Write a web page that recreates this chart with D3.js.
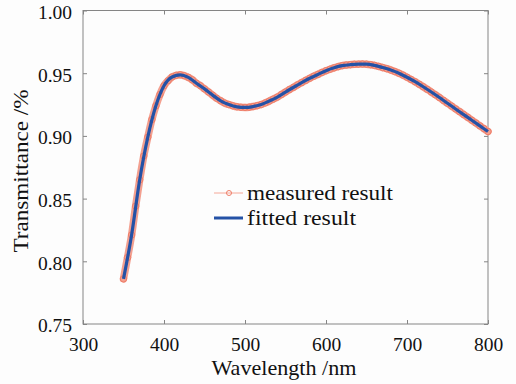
<!DOCTYPE html>
<html>
<head>
<meta charset="utf-8">
<script src="https://cdn.jsdelivr.net/npm/d3@7"></script>
<style>
  html, body { margin: 0; padding: 0; background: #fdfdfd; }
  svg { display: block; }
</style>
</head>
<body>
<svg id="chart"></svg>
<script>
// measured transmittance, every 5 nm
const measuredWl = d3.range(350, 801, 5);
const measuredT = [
  0.786, 0.803, 0.821, 0.844, 0.865, 0.884, 0.899, 0.913, 0.924, 0.933,
  0.940, 0.944, 0.947, 0.9483, 0.9487, 0.948, 0.9467, 0.9447, 0.942, 0.940,
  0.9375, 0.935, 0.9325, 0.930, 0.928, 0.9262, 0.925, 0.924, 0.9232, 0.9228,
  0.9227, 0.9229, 0.9234, 0.9241, 0.925, 0.9263, 0.9278, 0.9294, 0.931, 0.933,
  0.935, 0.937, 0.9388, 0.9407, 0.9425, 0.9443, 0.946, 0.9476, 0.949, 0.9506,
  0.952, 0.9532, 0.9543, 0.9552, 0.956, 0.9565, 0.9568, 0.9571, 0.9572, 0.9573,
  0.9572, 0.9568, 0.9562, 0.9554, 0.9545, 0.9536, 0.9525, 0.9513, 0.950, 0.9485,
  0.9468, 0.945, 0.9432, 0.9412, 0.9392, 0.9371, 0.935, 0.9328, 0.9306, 0.9283,
  0.926, 0.9238, 0.9215, 0.9193, 0.917, 0.9148, 0.9125, 0.9103, 0.908, 0.9058,
  0.9035
];
// fitted curve, every 10 nm
const fittedWl = d3.range(350, 801, 10);
const fittedT = [
  0.786, 0.821, 0.865, 0.899, 0.924, 0.940, 0.947, 0.9487, 0.9467, 0.942,
  0.9375, 0.9325, 0.928, 0.925, 0.9232, 0.9227, 0.9234, 0.925, 0.9278, 0.931,
  0.935, 0.9388, 0.9425, 0.946, 0.949, 0.952, 0.9543, 0.956, 0.9568, 0.9572,
  0.9572, 0.9562, 0.9545, 0.9525, 0.950, 0.9468, 0.9432, 0.9392, 0.935, 0.9306,
  0.926, 0.9215, 0.917, 0.9125, 0.908, 0.9035
];
const xTicks = [300, 400, 500, 600, 700, 800];
const yTicks = [0.75, 0.80, 0.85, 0.90, 0.95, 1.00];
const seriesNames = ["measured result", "fitted result"];

const FONT = "'Liberation Serif', 'Times New Roman', serif";

const width = 516, height = 384;
const margin = { top: 10.5, right: 28, bottom: 60, left: 83 };
const iw = width - margin.left - margin.right;
const ih = height - margin.top - margin.bottom;

const svg = d3.select("#chart").attr("width", width).attr("height", height);
const g = svg.append("g").attr("transform", `translate(${margin.left},${margin.top})`);

const x = d3.scaleLinear().domain([300, 800]).range([0, iw]);
const y = d3.scaleLinear().domain([0.75, 1.0]).range([ih, 0]);

const axisColor = "#858585";

// box (top and right with inward ticks)
g.append("rect").attr("width", iw).attr("height", ih)
  .attr("fill", "#fdfdfd").attr("stroke", axisColor).attr("stroke-width", 1);

function styleAxis(sel, showText) {
  sel.attr("font-family", null).attr("font-size", null);
  sel.select(".domain").remove();
  sel.selectAll(".tick line").attr("stroke", axisColor);
  if (!showText) sel.selectAll(".tick text").remove();
  else sel.selectAll(".tick text")
    .style("font-family", FONT).style("font-size", "19.5px").attr("fill", "#111");
}

const xAxis = g.append("g").attr("transform", `translate(0,${ih})`)
  .call(d3.axisBottom(x).tickValues(xTicks).tickFormat(d3.format("d"))
    .tickSizeInner(-4).tickSizeOuter(0).tickPadding(13));
styleAxis(xAxis, true);

g.append("g").call(d3.axisTop(x).tickValues(xTicks).tickSizeInner(-4).tickSizeOuter(0))
  .call(s => styleAxis(s, false));

const yAxis = g.append("g")
  .call(d3.axisLeft(y).tickValues(yTicks).tickFormat(d3.format(".2f"))
    .tickSizeInner(-4).tickSizeOuter(0).tickPadding(11));
styleAxis(yAxis, true);
yAxis.selectAll(".tick text").attr("dy", "0.4em");

g.append("g").attr("transform", `translate(${iw},0)`)
  .call(d3.axisRight(y).tickValues(yTicks).tickSizeInner(-4).tickSizeOuter(0))
  .call(s => styleAxis(s, false));

const measColor = "#ef7d68";
const haloColor = "#f3a090";
const fitColor = "#2452a6";

const measured = measuredWl.map((w, i) => ({ w, t: measuredT[i] }));
const fitted = fittedWl.map((w, i) => ({ w, t: fittedT[i] }));

const line = d3.line().x(d => x(d.w)).y(d => y(d.t)).curve(d3.curveMonotoneX);

// dense markers of the measured curve merge into a band
g.append("path").datum(measured)
  .attr("fill", "none").attr("stroke", haloColor).attr("stroke-width", 7.5)
  .attr("stroke-linejoin", "round").attr("stroke-linecap", "round")
  .attr("d", line);

g.selectAll(".meas").data(measured).enter().append("circle")
  .attr("class", "meas")
  .attr("cx", d => x(d.w)).attr("cy", d => y(d.t)).attr("r", 3.2)
  .attr("fill", "none").attr("stroke", measColor).attr("stroke-width", 1);

g.append("path").datum(fitted)
  .attr("fill", "none").attr("stroke", fitColor).attr("stroke-width", 3.2)
  .attr("stroke-linejoin", "round")
  .attr("d", line);

// legend
const leg = svg.append("g").attr("transform", "translate(214,0)");
leg.append("line").attr("x1", 0).attr("x2", 29).attr("y1", 193).attr("y2", 193)
  .attr("stroke", "#f5a898").attr("stroke-width", 1);
leg.append("circle").attr("cx", 15).attr("cy", 193).attr("r", 2.5)
  .attr("fill", "none").attr("stroke", measColor).attr("stroke-width", 1);
leg.append("line").attr("x1", 0).attr("x2", 29).attr("y1", 218).attr("y2", 218)
  .attr("stroke", fitColor).attr("stroke-width", 3);

function label(sel, size, len) {
  return sel.style("font-family", FONT).style("font-size", size + "px").attr("fill", "#111")
    .attr("textLength", len).attr("lengthAdjust", "spacingAndGlyphs");
}
label(leg.append("text").attr("x", 33).attr("y", 200), 21, 146).text(seriesNames[0]);
label(leg.append("text").attr("x", 33).attr("y", 225), 21, 109).text(seriesNames[1]);

// axis titles
label(svg.append("text").attr("x", 284).attr("y", 375).attr("text-anchor", "middle"), 21, 145)
  .text("Wavelength /nm");
label(svg.append("text").attr("transform", "translate(28,171) rotate(-90)")
  .attr("text-anchor", "middle"), 21, 163)
  .text("Transmittance /%");
</script>
</body>
</html>
